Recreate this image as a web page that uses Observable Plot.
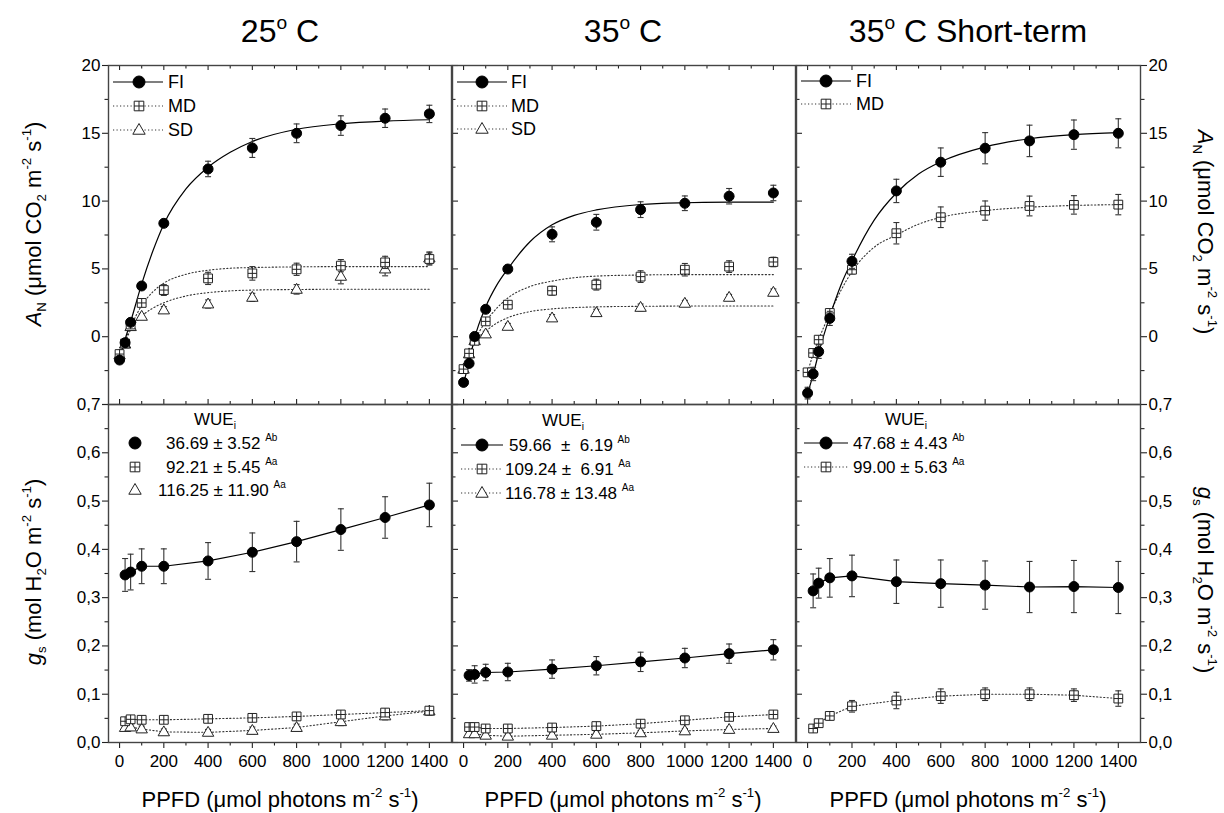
<!DOCTYPE html>
<html><head><meta charset="utf-8">
<script src="https://cdn.jsdelivr.net/npm/d3@7"></script>
<script src="https://cdn.jsdelivr.net/npm/@observablehq/plot@0.6"></script>
<style>
body{margin:0;background:#fff;}
#wrap{position:relative;width:1224px;height:813px;font-family:"Liberation Sans",Arial,Helvetica,sans-serif;color:#000;overflow:hidden;background:#fff}
#wrap svg{position:absolute;left:0;top:0}
.t{position:absolute;white-space:pre;line-height:1}
.sup{font-size:60%;position:relative;top:-0.75em}
.sub{font-size:60%;position:relative;top:0.4em}
.rot{position:absolute;white-space:pre;line-height:1}
</style></head><body><div id="wrap"></div>
<script>
// ---------------- DATA ----------------
const ppfdA = [0,25,50,100,200,400,600,800,1000,1200,1400];
const ppfdG = [25,50,100,200,400,600,800,1000,1200,1400];
const ppfdFit = [0,25,50,100,150,200,300,400,500,600,800,1000,1200,1400];

const xTicks = [0,200,400,600,800,1000,1200,1400];
const xMinor = [100,300,500,700,900,1100,1300];
const yTicksA = [0,5,10,15,20];
const yMinorA = [-2.5,2.5,7.5,12.5,17.5];
const yTicksG = [0,0.1,0.2,0.3,0.4,0.5,0.6,0.7];
const yMinorG = [0.05,0.15,0.25,0.35,0.45,0.55,0.65];

// 25 °C — A_N
const a25FI   = [-1.72,-0.44,1.06,3.74,8.36,12.37,13.92,15.0,15.57,16.11,16.43];
const a25FIse = [0.2,0.2,0.2,0.2,0.2,0.57,0.7,0.69,0.72,0.68,0.64];
const a25MD   = [-1.28,-0.5,0.9,2.49,3.44,4.3,4.67,4.97,5.24,5.48,5.73];
const a25MDse = [0.15,0.2,0.2,0.25,0.4,0.45,0.5,0.45,0.45,0.45,0.45];
const a25SD   = [-1.35,-0.55,0.74,1.5,1.97,2.41,2.9,3.49,4.45,4.99,5.8];
const a25SDse = [0.15,0.2,0.2,0.2,0.25,0.3,0.3,0.35,0.55,0.5,0.45];
const a25FIfit = [-1.75,-0.2,1.1,3.9,6.3,8.3,10.9,12.5,13.6,14.4,15.3,15.7,15.9,16.0];
const a25MDfit = [-1.3,-0.3,0.7,2.3,3.3,3.95,4.6,4.9,5.05,5.1,5.15,5.17,5.17,5.17];
const a25SDfit = [-1.3,-0.4,0.5,1.5,2.1,2.5,3.0,3.25,3.38,3.44,3.48,3.5,3.5,3.5];

// 35 °C — A_N
const a35FI   = [-3.37,-1.97,0.02,2.02,4.99,7.55,8.44,9.37,9.84,10.36,10.6];
const a35FIse = [0.2,0.2,0.2,0.2,0.2,0.55,0.58,0.58,0.54,0.57,0.57];
const a35MD   = [-2.39,-1.23,-0.3,1.13,2.36,3.39,3.84,4.43,4.94,5.17,5.51];
const a35MDse = [0.15,0.2,0.2,0.2,0.2,0.33,0.4,0.43,0.46,0.43,0.35];
const a35SD   = [-2.4,-1.27,-0.3,0.2,0.76,1.38,1.77,2.16,2.46,2.9,3.27];
const a35SDse = [0.15,0.2,0.2,0.2,0.22,0.25,0.25,0.25,0.22,0.22,0.25];
const a35FIfit = [-3.4,-1.9,-0.1,2.2,3.8,5.0,7.0,8.25,8.95,9.35,9.75,9.88,9.92,9.93];
const a35MDfit = [-2.4,-1.3,-0.3,1.1,2.1,2.85,3.7,4.1,4.35,4.47,4.55,4.58,4.58,4.58];
const a35SDfit = [-2.4,-1.3,-0.4,0.4,1.0,1.4,1.85,2.05,2.15,2.2,2.24,2.26,2.26,2.26];

// 35 °C short-term — A_N
const a35sFI   = [-4.16,-2.75,-1.1,1.35,5.56,10.75,12.87,13.9,14.44,14.9,15.0];
const a35sFIse = [0.43,0.49,0.5,0.52,0.52,0.86,1.05,1.15,1.16,1.08,1.07];
const a35sMD   = [-2.63,-1.2,-0.22,1.75,4.94,7.63,8.81,9.3,9.64,9.72,9.74];
const a35sMDse = [0.2,0.2,0.2,0.3,0.3,0.79,0.76,0.71,0.73,0.68,0.75];
const a35sFIfit = [-4.2,-2.8,-1.2,1.5,3.8,5.6,8.6,10.6,12.0,12.9,14.0,14.6,14.9,15.05];
const a35sMDfit = [-2.6,-1.3,-0.2,1.7,3.4,4.8,6.6,7.5,8.3,8.8,9.3,9.55,9.68,9.74];

// 25 °C — g_s
const g25FI   = [0.347,0.353,0.365,0.365,0.376,0.394,0.416,0.441,0.466,0.492];
const g25FIse = [0.034,0.037,0.036,0.036,0.038,0.04,0.042,0.043,0.043,0.045];
const g25MD   = [0.044,0.048,0.047,0.047,0.049,0.051,0.054,0.058,0.062,0.066];
const g25MDse = [0.006,0.006,0.006,0.006,0.006,0.007,0.007,0.007,0.007,0.007];
const g25SD   = [0.031,0.032,0.028,0.022,0.021,0.025,0.031,0.043,0.055,0.065];
const g25SDse = [0.006,0.006,0.006,0.006,0.006,0.007,0.007,0.008,0.008,0.008];

// 35 °C — g_s
const g35FI   = [0.139,0.141,0.145,0.146,0.152,0.159,0.167,0.175,0.184,0.192];
const g35FIse = [0.012,0.018,0.017,0.018,0.019,0.019,0.02,0.02,0.02,0.021];
const g35MD   = [0.032,0.032,0.029,0.029,0.031,0.034,0.039,0.046,0.053,0.058];
const g35MDse = [0.006,0.006,0.006,0.006,0.006,0.006,0.006,0.006,0.006,0.006];
const g35SD   = [0.018,0.018,0.015,0.013,0.015,0.017,0.020,0.024,0.027,0.029];
const g35SDse = [0.006,0.006,0.005,0.005,0.005,0.005,0.005,0.005,0.005,0.005];

// 35 °C short-term — g_s
const g35sFI   = [0.314,0.330,0.341,0.345,0.333,0.329,0.326,0.322,0.323,0.321];
const g35sFIse = [0.035,0.031,0.04,0.043,0.045,0.049,0.05,0.053,0.054,0.054];
const g35sMD   = [0.029,0.040,0.055,0.075,0.087,0.096,0.100,0.100,0.098,0.091];
const g35sMDse = [0.006,0.007,0.008,0.012,0.017,0.015,0.013,0.013,0.013,0.016];

const titles = ["25", "35", "35"];
const titleTails = [" C", " C", " C Short-term"];
const wue25 = [["36.69 ± 3.52","Ab"],["92.21 ± 5.45","Aa"],["116.25 ± 11.90","Aa"]];
const wue35 = [["59.66  ±  6.19","Ab"],["109.24 ±  6.91","Aa"],["116.78 ± 13.48","Aa"]];
const wue35s = [["47.68 ± 4.43","Ab"],["99.00 ± 5.63","Aa"]];

// ---------------- SYMBOLS ----------------
const symCircle = d3.symbolCircle;
const symSquarePlus = {draw(c, size){const r=Math.sqrt(size/Math.PI), s=r*0.8;
  c.moveTo(-s,-s);c.lineTo(s,-s);c.lineTo(s,s);c.lineTo(-s,s);c.closePath();
  c.moveTo(0,-s);c.lineTo(0,s);c.moveTo(-s,0);c.lineTo(s,0);}};
const symTri = {draw(c, size){const r=Math.sqrt(size/Math.PI);
  c.moveTo(0,-r);c.lineTo(r*0.95,r*0.65);c.lineTo(-r*0.95,r*0.65);c.closePath();}};
const symCap = {draw(c, size){const r=Math.sqrt(size/Math.PI); c.moveTo(-r,0); c.lineTo(r,0);}};

const STYLE = {
  FI:{sym:symCircle, r:5, fill:"#000", stroke:"#000", dash:null, lw:1.2, lineStroke:"#000"},
  MD:{sym:symSquarePlus, r:5.5, fill:"#fff", stroke:"#222", dash:"1.2,2.3", lw:1.1, lineStroke:"#333"},
  SD:{sym:symTri, r:6, fill:"#fff", stroke:"#222", dash:"1.2,2.3", lw:1.1, lineStroke:"#333"}
};

// ---------------- LAYOUT ----------------
const W=1224, H=813;
const COLS=[[108,451],[452,795],[796,1140]];
const ROWS=[[65,404],[404,742]];
const wrap = document.getElementById("wrap");
const comma = d => d.toFixed(1).replace(".", ",");
const blank = () => "";

const panels = [
  {col:0,row:0,series:[["SD",a25SD,a25SDse,a25SDfit],["MD",a25MD,a25MDse,a25MDfit],["FI",a25FI,a25FIse,a25FIfit]]},
  {col:1,row:0,series:[["SD",a35SD,a35SDse,a35SDfit],["MD",a35MD,a35MDse,a35MDfit],["FI",a35FI,a35FIse,a35FIfit]]},
  {col:2,row:0,series:[["MD",a35sMD,a35sMDse,a35sMDfit],["FI",a35sFI,a35sFIse,a35sFIfit]]},
  {col:0,row:1,series:[["SD",g25SD,g25SDse,null],["MD",g25MD,g25MDse,null],["FI",g25FI,g25FIse,null]]},
  {col:1,row:1,series:[["SD",g35SD,g35SDse,null],["MD",g35MD,g35MDse,null],["FI",g35FI,g35FIse,null]]},
  {col:2,row:1,series:[["MD",g35sMD,g35sMDse,null],["FI",g35sFI,g35sFIse,null]]}
];

const AX = {stroke:"#222", strokeWidth:1.1, label:null, fontSize:17};

function makePanel(p){
  const [L,R]=COLS[p.col], [T,B]=ROWS[p.row];
  const top = p.row===0;
  const xs = top ? ppfdA : ppfdG;
  const major = top ? [-5,...yTicksA] : yTicksG;
  const minor = top ? yMinorA : yMinorG;
  const fmt = top ? (d => d === -5 ? "" : String(d)) : comma;
  const marks = [];
  if (top) {
    marks.push(Plot.axisX({...AX, ticks:xTicks, anchor:"bottom", tickSize:-5, tickFormat:blank}));
    marks.push(Plot.axisX({...AX, ticks:xMinor, anchor:"bottom", tickSize:-3, tickFormat:blank}));
    marks.push(Plot.axisX({...AX, ticks:xTicks, anchor:"top", tickSize:-4, tickFormat:blank}));
    marks.push(Plot.axisX({...AX, ticks:xMinor, anchor:"top", tickSize:-2.5, tickFormat:blank}));
  } else {
    marks.push(Plot.axisX({...AX, ticks:xTicks, anchor:"bottom", tickSize:6, tickPadding:6, tickFormat:d=>String(d)}));
    marks.push(Plot.axisX({...AX, ticks:xMinor, anchor:"bottom", tickSize:3.5, tickFormat:blank}));
  }
  if (p.col===0) {
    marks.push(Plot.axisY({...AX, ticks:major, anchor:"left", tickSize:6, tickPadding:2, tickFormat:fmt}));
    marks.push(Plot.axisY({...AX, ticks:minor, anchor:"left", tickSize:3.5, tickFormat:blank}));
  } else {
    marks.push(Plot.axisY({...AX, ticks:major, anchor:"left", tickSize:-6, tickFormat:blank}));
    marks.push(Plot.axisY({...AX, ticks:minor, anchor:"left", tickSize:-3.5, tickFormat:blank}));
  }
  if (p.col===2) {
    marks.push(Plot.axisY({...AX, ticks:major, anchor:"right", tickSize:6, tickPadding:2, tickFormat:fmt}));
    marks.push(Plot.axisY({...AX, ticks:minor, anchor:"right", tickSize:3.5, tickFormat:blank}));
  }
  for (const [name, ys, es, fit] of p.series) {
    const st = STYLE[name];
    const lineData = fit ? ppfdFit.map((x,i)=>({x, y:fit[i]})) : xs.map((x,i)=>({x, y:ys[i]}));
    marks.push(Plot.line(lineData, {x:"x", y:"y", curve: fit ? "monotone-x" : "linear",
      stroke: st.lineStroke, strokeWidth: st.lw, strokeDasharray: st.dash}));
  }
  for (const [name, ys, es] of p.series) {
    const st = STYLE[name];
    const rows = xs.map((x,i)=>({x, y:ys[i], e:es[i]}));
    marks.push(Plot.ruleX(rows, {x:"x", y1:d=>d.y-d.e, y2:d=>d.y+d.e, stroke:"#333", strokeWidth:1.1}));
    marks.push(Plot.dot(rows, {x:"x", y:d=>d.y-d.e, symbol:symCap, r:3, stroke:"#333", strokeWidth:1.1, fill:"none"}));
    marks.push(Plot.dot(rows, {x:"x", y:d=>d.y+d.e, symbol:symCap, r:3, stroke:"#333", strokeWidth:1.1, fill:"none"}));
    marks.push(Plot.dot(rows, {x:"x", y:"y", symbol:st.sym, r:st.r, fill:st.fill, stroke:st.stroke, strokeWidth:1}));
  }
  marks.push(Plot.frame({stroke:"#444", strokeWidth:1.4}));
  const svg = Plot.plot({
    width:W, height:H,
    marginLeft:L, marginRight:W-R, marginTop:T, marginBottom:H-B,
    x:{domain:[-50,1500]},
    y:{domain: top ? [-5,20] : [0,0.7]},
    style:{background:"none", overflow:"visible", fontFamily:'"Liberation Sans",Arial,sans-serif', fontSize:"17px", color:"#000"},
    marks
  });
  wrap.appendChild(svg);
}
panels.forEach(makePanel);

// ---------------- TEXT ----------------
function addText(html, x, yc, fs, align){
  const d=document.createElement("div");
  d.className="t"; d.innerHTML=html; d.style.fontSize=fs+"px";
  d.style.top=(yc-0.49*fs)+"px"; d.style.left=x+"px";
  if (align==="center") d.style.transform="translateX(-50%)";
  wrap.appendChild(d); return d;
}
function addRot(html, cx, cy, fs, deg){
  const d=document.createElement("div");
  d.className="rot"; d.innerHTML=html; d.style.fontSize=fs+"px";
  d.style.left=cx+"px"; d.style.top=cy+"px";
  d.style.transform=`translate(-50%,-50%) rotate(${deg}deg)`;
  wrap.appendChild(d); return d;
}
const centers=[280,623,968];
titles.forEach((t,i)=>addText(`${t}<span class="sup" style="top:-0.7em">o</span>${titleTails[i]}`, centers[i], 31, 32, "center"));
const ppfdLabel = `PPFD (μmol photons m<span class="sup">-2</span> s<span class="sup">-1</span>)`;
centers.forEach(c=>addText(ppfdLabel, c, 800, 22, "center"));
const aLabel = `<i>A</i><span class="sub">N</span> (μmol CO<span class="sub">2</span> m<span class="sup">-2</span> s<span class="sup">-1</span>)`;
const gLabel = `<i>g</i><span class="sub">s</span> (mol H<span class="sub">2</span>O m<span class="sup">-2</span> s<span class="sup">-1</span>)`;
addRot(aLabel, 34, 224, 22, -90);
addRot(gLabel, 34, 572, 22, -90);
addRot(aLabel, 1205, 232, 22, 90);
addRot(gLabel, 1205, 580, 22, 90);

// ---------------- LEGENDS ----------------
const leg = d3.select(wrap).append("svg").attr("width",W).attr("height",H).style("overflow","visible");
function legSample(name, x1, x2, cx, cy, withLine){
  const st = STYLE[name];
  if (withLine) leg.append("line").attr("x1",x1).attr("x2",x2).attr("y1",cy).attr("y2",cy)
     .attr("stroke",st.lineStroke).attr("stroke-width",st.lw).attr("stroke-dasharray",st.dash);
  const rr = name==="FI" ? 6 : st.r+0.5;
  leg.append("path").attr("d", d3.symbol(st.sym, Math.PI*rr*rr)()).attr("transform",`translate(${cx},${cy})`)
     .attr("fill",st.fill).attr("stroke",st.stroke).attr("stroke-width",1);
}
const topLeg = [
  {names:["FI","MD","SD"], x1:113, x2:163, cx:139, tx:168, ys:[82,106,130]},
  {names:["FI","MD","SD"], x1:457, x2:507, cx:482, tx:511, ys:[82,106,129]},
  {names:["FI","MD"], x1:801, x2:851, cx:826, tx:856, ys:[81,104]}
];
topLeg.forEach(g=>g.names.forEach((n,i)=>{
  legSample(n, g.x1, g.x2, g.cx, g.ys[i], true);
  addText(n, g.tx, g.ys[i], 18);
}));
const wueLbl = `WUE<span class="sub">i</span>`;
addText(wueLbl, 194, 419, 17); addText(wueLbl, 542, 420, 17); addText(wueLbl, 885, 419, 17);
const names3 = ["FI","MD","SD"];
const botLeg = [
  {rows:wue25, x1:0, x2:0, cx:135, tx:[166,166,158], ys:[443,467,490], line:false},
  {rows:wue35, x1:461, x2:503, cx:482, tx:[509,505,505], ys:[445,469,493], line:true},
  {rows:wue35s, x1:804, x2:848, cx:826, tx:[853,853], ys:[443,467], line:true}
];
botLeg.forEach(g=>g.rows.forEach(([txt,sup],i)=>{
  legSample(names3[i], g.x1, g.x2, g.cx, g.ys[i], g.line);
  addText(`${txt} <span style="font-size:10px;position:relative;top:-8px">${sup}</span>`, g.tx[i], g.ys[i], 17);
}));
</script></body></html>
